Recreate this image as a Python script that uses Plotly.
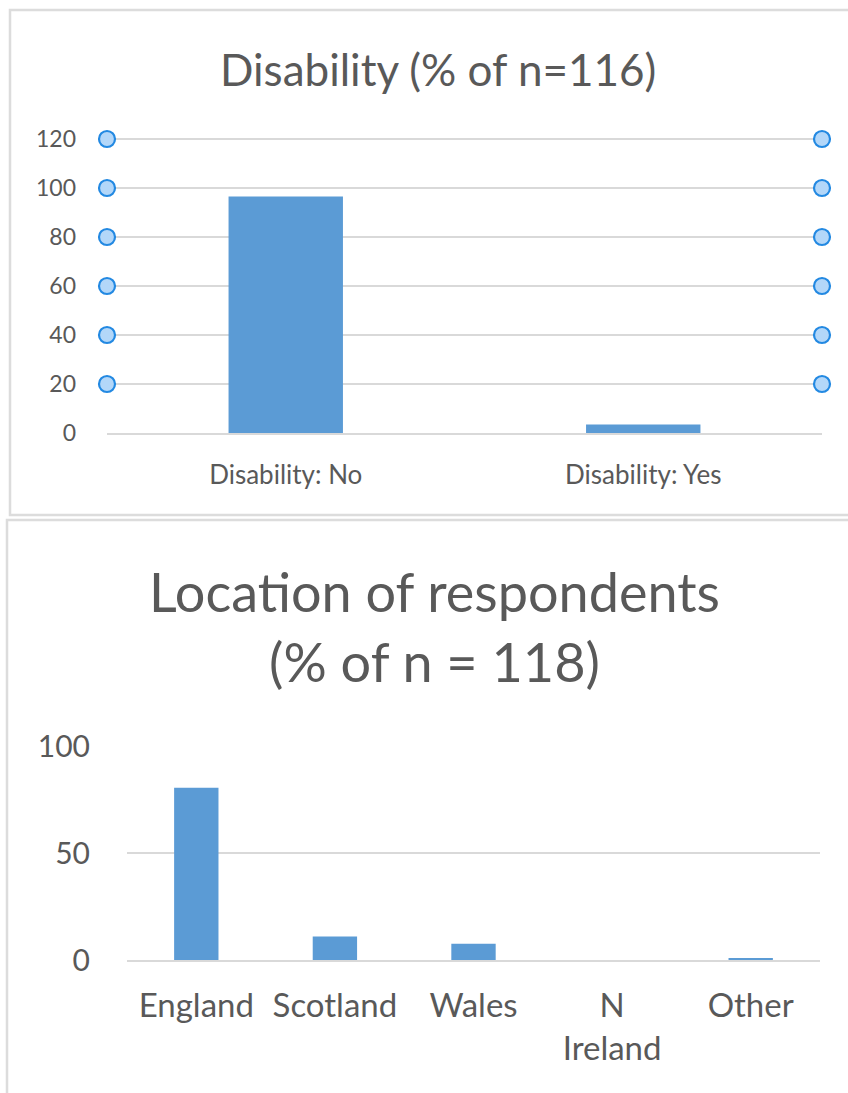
import plotly.graph_objects as go

# ---- data ----
disability_cats = ["Disability: No", "Disability: Yes"]
disability_pct = [96.55, 3.45]
disability_ticks = [0, 20, 40, 60, 80, 100, 120]

location_cats = ["England", "Scotland", "Wales", "N<br>Ireland", "Other"]
location_pct = [80.5, 11.0, 7.6, 0.0, 0.85]
location_ticks = [0, 50, 100]

W, H = 848, 1093
BAR = "#5b9bd5"
TXT = "#595959"
GRID = "#d9d9d9"
FONT = "Lato, sans-serif"


def px_x(p):
    return p / W


def px_y(p):
    return 1 - p / H


fig = go.Figure()

fig.add_trace(go.Bar(x=disability_cats, y=disability_pct, marker_color=BAR,
                     marker_line_width=0, xaxis="x", yaxis="y", showlegend=False))
fig.add_trace(go.Bar(x=location_cats, y=location_pct, marker_color=BAR,
                     marker_line_width=0, xaxis="x2", yaxis="y2", showlegend=False))

# upper plot runs slightly past 120 so the top handles are not clipped
fig.update_layout(
    width=W, height=H,
    margin=dict(l=0, r=0, t=0, b=0, autoexpand=False),
    paper_bgcolor="white", plot_bgcolor="white",
    bargap=0.68,
    xaxis=dict(domain=[px_x(107), px_x(822)], anchor="y", automargin=False,
               showline=True, linecolor=GRID, linewidth=1.5,
               ticks="", tickfont=dict(family=FONT, size=26, color=TXT),
               ticklabelstandoff=18, fixedrange=True),
    yaxis=dict(domain=[px_y(433), px_y(129.2)], anchor="x", range=[0, 124],
               automargin=False,
               tickvals=disability_ticks, showgrid=True, gridcolor=GRID,
               gridwidth=1.5, zeroline=False, ticks="",
               tickfont=dict(family=FONT, size=23, color=TXT),
               ticklabelstandoff=30),
    xaxis2=dict(domain=[px_x(127), px_x(820)], anchor="y2", automargin=False,
                showline=True, linecolor=GRID, linewidth=1.5,
                ticks="", tickfont=dict(family=FONT, size=33, color=TXT),
                ticklabelstandoff=16),
    yaxis2=dict(domain=[px_y(960), px_y(746)], anchor="x2", range=[0, 100],
                automargin=False,
                tickvals=location_ticks, showgrid=True, gridcolor=GRID,
                gridwidth=1.5, zeroline=False, ticks="",
                tickfont=dict(family=FONT, size=30, color=TXT),
                ticklabelstandoff=36),
)

# chart titles
fig.add_annotation(text="Disability (% of n=116)", x=px_x(438), y=px_y(69),
                   xref="paper", yref="paper", showarrow=False,
                   font=dict(family=FONT, size=44, color=TXT),
                   xanchor="center", yanchor="middle")
fig.add_annotation(text="Location of respondents<br>(% of n = 118)",
                   x=px_x(434), y=px_y(626), xref="paper", yref="paper",
                   showarrow=False, align="center",
                   font=dict(family=FONT, size=54, color=TXT),
                   xanchor="center", yanchor="middle")

shapes = []
# chart frames
shapes.append(dict(type="rect", xref="paper", yref="paper",
                   x0=px_x(10), x1=px_x(860), y0=px_y(515), y1=px_y(10),
                   line=dict(color="#dcdcdc", width=2.5), fillcolor="rgba(0,0,0,0)",
                   layer="below"))
shapes.append(dict(type="rect", xref="paper", yref="paper",
                   x0=px_x(7), x1=px_x(870), y0=px_y(1110), y1=px_y(520),
                   line=dict(color="#dcdcdc", width=2.5), fillcolor="rgba(0,0,0,0)",
                   layer="below"))

# selection handles along both edges of the upper plot area
for v in disability_ticks[1:]:
    for edge in (0, 1):
        shapes.append(dict(type="circle", xref="x domain", yref="y",
                           xsizemode="pixel", ysizemode="pixel",
                           xanchor=edge, yanchor=v,
                           x0=-8, x1=8, y0=-8, y1=8,
                           fillcolor="#b3d7f9",
                           line=dict(color="#2389e2", width=2.2), layer="above"))

fig.update_layout(shapes=shapes)

fig.write_html("out.html")
